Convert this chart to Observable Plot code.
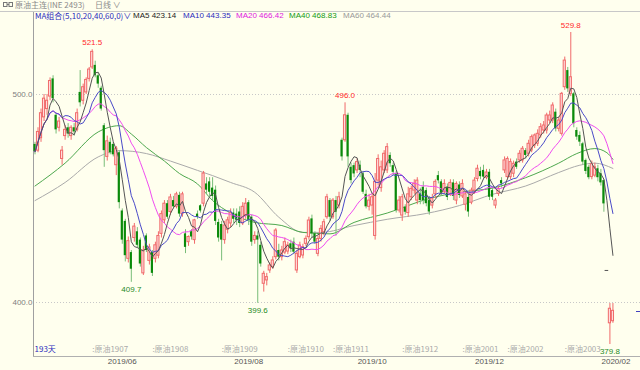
<!DOCTYPE html>
<html><head><meta charset="utf-8">
<script src="https://cdn.jsdelivr.net/npm/d3@7"></script>
<script src="https://cdn.jsdelivr.net/npm/@observablehq/plot@0.6"></script>
<style>
html,body{margin:0;padding:0;background:#ffffee;}
#wrap{position:relative;width:640px;height:370px;overflow:hidden;background:#ffffee;font-family:"Liberation Sans",Arial,sans-serif;}
#chart{position:absolute;left:0;top:0;}
.t{position:absolute;font-size:8px;line-height:10px;white-space:nowrap;}
.cjk{font-family:"Noto Sans CJK SC","Liberation Sans",sans-serif;}
</style></head><body>
<div id="wrap">
<div id="chart"></div>
<div style="position:absolute;left:0;top:11px;width:640px;height:1px;background:#c8c8c8"></div>
<svg style="position:absolute;left:3px;top:2px" width="10" height="6"><rect x="0.5" y="0.5" width="3.5" height="4" fill="none" stroke="#777"/><rect x="6" y="0.5" width="3.5" height="4" fill="none" stroke="#777"/><line x1="4" y1="2.5" x2="6" y2="2.5" stroke="#777"/></svg>
<div class="t cjk" id="title" style="left:15px;top:0px;color:#8a8a8a"></div>
<div class="t cjk" id="period" style="left:95px;top:0px;color:#8a8a8a"></div>
<div id="legend"></div>
<div style="position:absolute;left:636px;top:311px;width:4px;height:1px;background:#4040c0"></div>
</div>
<script>
// ---------- data ----------
const titleText = "原油主连(INE 2493)";
const periodText = "日线 ∨";
const open  = [476,473,479,489,493,499,507.5,490,484,469,480,484,480,484,483,501,497,501,507.5,513,514,509,503,485,470,477,476,466,472,444,439,421,424,431,434,430,414,432,420,424,421,422.5,433,439.5,447.5,443.5,449,446,451.5,442.5,433,429,434,430,442.5,446.5,447.5,457,458,455,454,438.5,437.5,430,435,438,443,442.5,443.5,438,442,448,441,430,432,427.5,409,410.6,415.4,417,421.8,425,421.8,424,424.5,428.2,429,415.4,421.8,422.6,428.2,431.4,440.2,433,423.4,430.6,433.8,441,449,441,449,446.6,478,478,490,465,465.8,463.5,466,461.9,452,446,446.6,432,458.6,455,463.5,463.5,470.7,465.8,461.9,444.2,441.8,445.8,443,450.6,453.8,449,452.2,455.4,453.8,449,446.6,452,461,458,453,455.5,452,457.5,449,456.5,451,447,450.5,448,453.8,459.4,463,463.5,460,462.6,453.8,446.6,452.2,458.6,463.5,460.3,460.3,461.9,467.5,468.3,468.3,473,471.5,473.1,475.5,476.3,480.3,482.7,482.7,487.5,487.5,491.5,483.5,481.1,503.5,511.5,500.3,500.3,482.7,480.3,476.3,468.3,465,460.3,461,464.3,462,458.6,415.4,390,391];
const high  = [477,484,493,500,500,508,509,491,489,475,485,486,485,486,493,511.5,505,508,513,521.5,516,510,504,486,480,479,477,475,473,445,440,431.5,425,438,436,431,427,433,428,425,429,434,444,449,449,452,451,453,453,453,435,432,435,440,444,447,463,460,460,460,456,440,439,439,441,445,445,445,446,448,450,449,442,434,434,429,415,414,419,422,435.5,428,427,431,429,430,431,425,429,428,432,441,442,434,432,437,440,452,450,450,451,453,479,496,491,467,467,469,468,463,454,452,452,462,471,468,473,476.4,472,467,463,451,452,447,455.4,456,459,460,455,458,455,451,452,459,463,459,459,457,459,459,458,458,459,453,452,455,460,466,465,466,464,464,455,450,456,460,470,470,469,468,469,473,475,474,478,480.5,481,483,486,487,491,492,496,493,489,501,518,513,529.8,501,484,482,477,469,466,468,467,466,464,459,415.4,399.5,399.5];
const low   = [471,472,477,487,490,497,496,481,482,466,478,479,478,480,482,494,495,500,506,512,508,503,492,465,468,471,470,461,445,428,419.5,419,409.7,429,426,417,413,424,418,412.5,419,421,431,438,440,442,445,445,441,441,423.5,427,430,428,440,443,446,452,451,449,437,429,420,428,433,436,438,437,436,437,440,437,427,428,399.6,417,405,408,414,416,420.5,420,420,423,423,424,423,414,421,421,427,430,431,428,422,429,432,440,439,440,432,445,468,477,465,457,460,462,460,452,445,444,442,430,456,453,462,462,465,461,443,443,439,442,441,449,452,447,447,447,446,442,445,450,457,451,452,449,451,449,447,450,450,444,441,447,452,458,459,459,459,449,449,445,451,455,462,459,459,460,464,467,467,469,470,472,474,475,479,481,481,486,486,482,482,480,502,501,499,484,478,475,466,461.5,459,459,460,458,456,443.4,415.4,379.8,390];
const close = [472.5,482,491,498,497,506.5,498,483,487,473,483,481,484,482,491,496,503.5,507,512,520.5,509,505,493,473,477.5,472,471,474,448,430,422.5,429.5,416,436.5,427.5,418.5,425,425,426.5,414,427.5,432,442.5,447.5,441,450.5,446,452,442.5,452,426.5,431.5,431.5,439.5,441,444,462,454,453,451,439,431,430,437,439.5,443,440,439.5,438,446,447.5,439.5,429,432,430,418.5,413.8,412.2,417.8,420.2,434.6,421.8,425,429,427.4,425.8,424.2,423.4,427.4,426.6,430.6,439.4,433,429,430.5,435.4,438.6,450.6,441,449,443.4,450.6,470,490,470,458.6,461.8,467.5,463.5,453,446,449,450.6,458,469,465,471.5,474.7,466.7,462.6,444.2,449,450.6,443.4,452,454.6,457,458.6,449,449,447.5,443.5,450,458,458.5,452.5,457,450.5,457.5,451,457,451.5,457,452,443.5,453.8,458.6,464.3,460.5,460.3,462.5,450.6,450.6,449,454.6,457,468.3,469,467.5,466.7,465,471.5,473.9,470.7,476.3,479.5,480.3,481.1,484.3,485.1,489.9,489.9,494.7,483.5,487.5,500.3,516.3,502.7,508.3,485.9,479.5,477.1,467.5,463,460,466.5,465,460,457.5,447.4,415.4,397,396];

// MA40 / MA60 (bar index, value)
const ma40Idx = [0,10,21,28,32,37,43,48,54,59,65,73,82,89,98,106,117,131,141,152,163,174,180,186,190,192];
const ma40Val = [456,467,482,485,481,474.5,468,462,457,449,443,438.5,437,433.7,433,438.5,443,450,453,455,460,467,471.6,474,472,468.83];
const ma60Idx = [0,10,21,28,37,45,54,59,65,73,81,89,95,106,117,130,141,152,163,174,181,186,192];
const ma60Val = [449,457.7,470,473,471.6,468,463.5,461,457.7,453,441,433.7,433.7,437,440,442.8,446.6,452,456,462.5,466,467,464.44];

const legendNames  = ["MA组合(5,10,20,40,60,0)∨","MA5 423.14","MA10 443.35","MA20 466.42","MA40 468.83","MA60 464.44"];
const yTicks = [400, 500];
const dateLabels = ["2019/06","2019/08","2019/10","2019/12","2020/02"];
const dateIdx    = [29, 71, 112, 151, 193];
const contractLabels = [":原油1907",":原油1908",":原油1909",":原油1910",":原油1911",":原油1912",":原油2001",":原油2002",":原油2003"];
const contractIdx    = [19, 39, 62, 84, 99, 122, 142, 157, 176];
const highMarks = [{i:19, v:521.5},{i:103, v:496.0},{i:178, v:529.8}];
const lowMarks  = [{i:32, v:409.7},{i:74, v:399.6},{i:191, v:379.8}];
const dayCount = "193天";

// ---------- style ----------
const colGreen = "#0a8a0a", colGreenWick = "#79bd79";
const colRed = "#f06a6a", colRedFill = "#ffdcdc";
const maColors = ["#555555","#4a4ac8","#f04cf0","#4ea84e","#aaaaaa"];
const legendColors = ["#2b2bbd","#222222","#2b2bbd","#e020e0","#139a13","#999999"];
const legendX = [35,133,183,236,289,343];

document.getElementById("title").textContent = titleText;
document.getElementById("period").textContent = periodText;
const lg = document.getElementById("legend");
legendNames.forEach((n,k)=>{
  const d = document.createElement("div");
  d.className = "t" + (k===0 ? " cjk" : "");
  d.style.left = legendX[k]+"px"; d.style.top = "11px"; d.style.color = legendColors[k];
  d.textContent = n; lg.appendChild(d);
});

const bars = open.map((o,i)=>({i, open:o, high:high[i], low:low[i], close:close[i]}));
const ups = bars.filter(d=>d.close>d.open);
const downs = bars.filter(d=>d.close<d.open);
const flats = bars.filter(d=>d.close===d.open);

function ma(k){ return close.map((_,i)=>({i, v: d3.mean(close.slice(Math.max(0,i-k+1), i+1))})); }
const ma5 = ma(5), ma10 = ma(10), ma20 = ma(20);
const ma40 = ma40Idx.map((i,k)=>({i, v: ma40Val[k]}));
const ma60 = ma60Idx.map((i,k)=>({i, v: ma60Val[k]}));

const hw = 0.36;
const chart = Plot.plot({
  width: 640, height: 370,
  marginLeft: 33, marginRight: 0, marginTop: 11, marginBottom: 14,
  x: {domain: [-0.5, 201.16], axis: null},
  y: {domain: [374.04, 539.9], axis: null},
  style: {background: "transparent", fontFamily: "Liberation Sans, Arial, sans-serif", fontSize: "8px", overflow: "visible"},
  marks: [
    Plot.ruleY(yTicks, {stroke: "#c8c8c8", strokeDasharray: "1,2"}),
    Plot.ruleX([-0.5], {stroke: "#a0a0a0"}),
    Plot.ruleY([374.04], {stroke: "#b0b0b0"}),
    Plot.text(yTicks, {y: d=>d, text: d=>d.toFixed(1), frameAnchor: "left", textAnchor: "end", dx: -1, fill: "#808080", fontSize: 8}),
    Plot.line(ma60, {x: "i", y: "v", stroke: maColors[4], strokeWidth: 1, curve: "monotone-x"}),
    Plot.line(ma40, {x: "i", y: "v", stroke: maColors[3], strokeWidth: 1, curve: "monotone-x"}),
    Plot.ruleX(downs, {x: "i", y1: "low", y2: "high", stroke: colGreenWick, strokeWidth: 1}),
    Plot.ruleX(ups, {x: "i", y1: "low", y2: "high", stroke: colRed, strokeWidth: 1}),
    Plot.rect(downs, {x1: d=>d.i-hw, x2: d=>d.i+hw, y1: "open", y2: "close", fill: colGreen}),
    Plot.rect(ups, {x1: d=>d.i-hw, x2: d=>d.i+hw, y1: "open", y2: "close", fill: colRedFill, stroke: colRed, strokeWidth: 1}),
    Plot.ruleY(flats, {y: "close", x1: d=>d.i-0.6, x2: d=>d.i+0.6, stroke: "#555"}),
    Plot.line(ma20, {x: "i", y: "v", stroke: maColors[2], strokeWidth: 1}),
    Plot.line(ma10, {x: "i", y: "v", stroke: maColors[1], strokeWidth: 1}),
    Plot.line(ma5, {x: "i", y: "v", stroke: maColors[0], strokeWidth: 1}),
    Plot.text(highMarks, {x: "i", y: "v", text: d=>d.v.toFixed(1), dy: -7, fill: "#ff2a2a", fontSize: 8}),
    Plot.text(lowMarks, {x: "i", y: "v", text: d=>d.v.toFixed(1), dy: 7, fill: "#1f8a1f", fontSize: 8}),
    Plot.text(contractLabels, {x: (d,k)=>contractIdx[k], text: d=>d, frameAnchor: "bottom", dy: -5, textAnchor: "start", fill: "#aaaaaa", fontSize: 8, fontFamily: "Noto Sans CJK SC"}),
    Plot.text([dayCount], {frameAnchor: "bottom-left", dx: 1, dy: -5, textAnchor: "start", fill: "#2b2bbd", fontSize: 8, fontFamily: "Noto Sans CJK SC"}),
    Plot.text(dateLabels, {x: (d,k)=>dateIdx[k], text: d=>d, frameAnchor: "bottom", dy: 7, fill: "#555555", fontSize: 8})
  ]
});
document.getElementById("chart").appendChild(chart);
</script>
</body></html>
